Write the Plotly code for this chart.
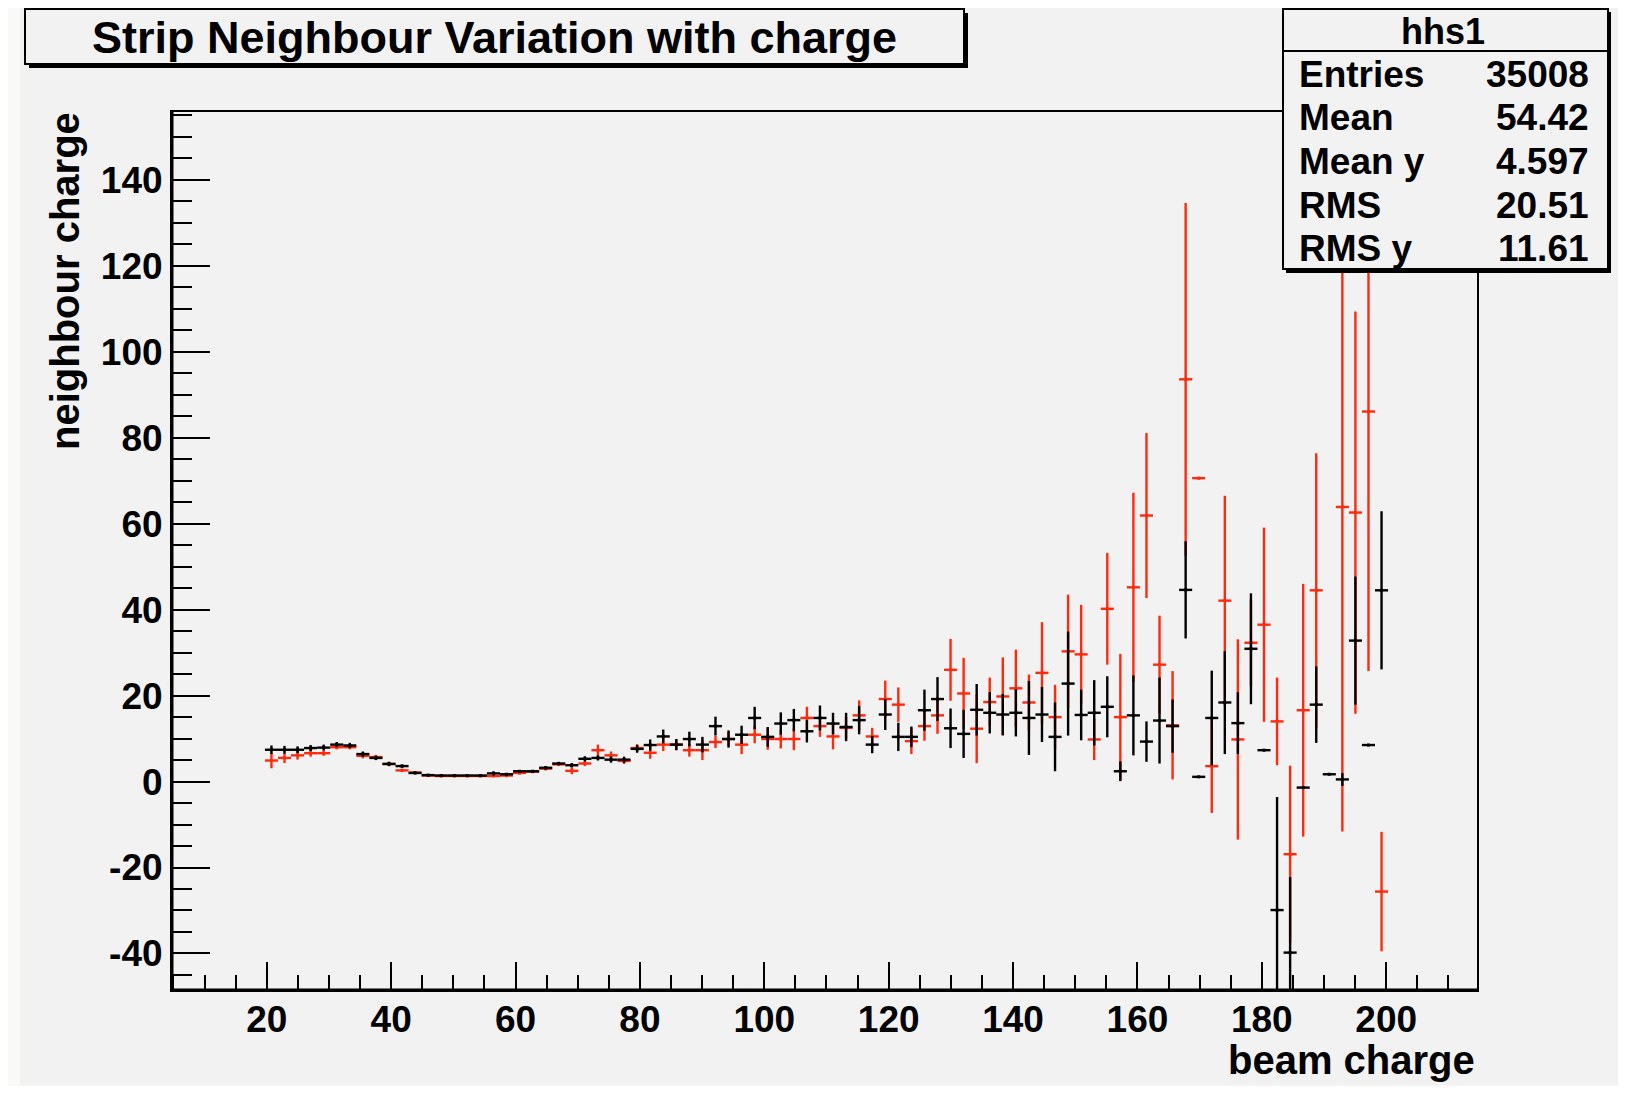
import plotly.graph_objects as go

# ---------------- data (profile histogram, 100 bins of width 2.1 from 5 to 215) ----------------
bin_centers = [
    20.75, 22.85, 24.95, 27.05, 29.15, 31.25, 33.35, 35.45, 37.55, 39.65,
    41.75, 43.85, 45.95, 48.05, 50.15, 52.25, 54.35, 56.45, 58.55, 60.65,
    62.75, 64.85, 66.95, 69.05, 71.15, 73.25, 75.35, 77.45, 79.55, 81.65,
    83.75, 85.85, 87.95, 90.05, 92.15, 94.25, 96.35, 98.45, 100.55, 102.65,
    104.75, 106.85, 108.95, 111.05, 113.15, 115.25, 117.35, 119.45, 121.55, 123.65,
    125.75, 127.85, 129.95, 132.05, 134.15, 136.25, 138.35, 140.45, 142.55, 144.65,
    146.75, 148.85, 150.95, 153.05, 155.15, 157.25, 159.35, 161.45, 163.55, 165.65,
    167.75, 169.85, 171.95, 174.05, 176.15, 178.25, 180.35, 182.45, 184.55, 186.65,
    188.75, 190.85, 192.95, 195.05, 197.15, 199.25,
]
half_bin_width = 1.05

black_y = [
    7.4, 7.4, 7.4, 7.8, 7.9, 8.6, 8.4, 6.4, 5.5, 4.1,
    3.6, 2.0, 1.5, 1.4, 1.4, 1.4, 1.4, 1.9, 1.7, 2.4,
    2.4, 3.2, 4.2, 3.8, 5.3, 5.5, 5.1, 5.1, 7.6, 8.5,
    10.5, 8.6, 9.9, 8.6, 12.9, 9.9, 10.9, 14.8, 10.4, 13.5,
    14.3, 11.7, 14.8, 13.5, 12.7, 14.3, 8.6, 15.6, 10.4, 10.4,
    16.6, 19.2, 12.4, 11.1, 16.7, 16.0, 15.6, 16.0, 14.8, 15.6,
    10.4, 22.8, 15.5, 16.0, 17.4, 2.4, 15.4, 9.3, 14.2, 12.9,
    44.6, 1.1, 14.8, 18.4, 13.6, 30.9, 7.3, -29.9, -39.8, -1.4,
    17.9, 1.7, 0.5, 32.8, 8.5, 44.5,
]
black_err = [
    1.0, 0.9, 0.8, 0.7, 0.7, 0.6, 0.6, 0.6, 0.5, 0.5,
    0.4, 0.3, 0.2, 0.2, 0.2, 0.2, 0.2, 0.5, 0.3, 0.3,
    0.3, 0.4, 0.4, 0.5, 0.6, 0.6, 0.7, 0.7, 0.9, 1.3,
    1.6, 1.3, 1.7, 1.8, 2.2, 2.0, 2.1, 2.6, 2.3, 2.6,
    2.6, 2.6, 2.9, 2.5, 3.3, 3.3, 2.0, 3.6, 3.3, 2.4,
    4.8, 5.1, 4.6, 5.6, 6.0, 4.8, 4.8, 5.5, 8.6, 6.4,
    8.0, 12.1, 5.9, 7.6, 7.1, 2.3, 9.3, 4.7, 10.0, 6.2,
    11.3, 0.0, 11.0, 12.0, 7.2, 12.9, 0.0, 26.3, 17.6, 0.0,
    8.9, 0.0, 1.5, 14.9, 0.0, 18.4,
]
red_y = [
    4.9, 5.5, 6.1, 6.6, 6.6, 8.0, 8.0, 6.0, 5.7, 4.1,
    2.6, 2.1, 1.4, 1.3, 1.3, 1.3, 1.3, 1.3, 1.4, 2.0,
    2.3, 3.0, 4.0, 2.5, 4.2, 7.3, 6.1, 4.8, 7.8, 6.7,
    8.6, 8.6, 7.3, 7.3, 9.2, 9.9, 8.6, 10.9, 9.9, 9.9,
    9.9, 14.8, 12.9, 10.5, 12.5, 15.4, 10.5, 19.2, 17.9, 9.4,
    12.9, 15.4, 26.0, 20.5, 12.3, 18.5, 19.8, 21.7, 18.4, 25.3,
    15.0, 30.3, 29.6, 9.8, 40.2, 15.0, 45.2, 61.9, 27.2, 13.1,
    93.6, 70.6, 3.6, 42.1, 9.8, 32.3, 36.5, 14.0, -16.9, 16.6,
    44.5, None, 63.9, 62.6, 86.1, -25.6,
]
red_err = [
    1.8, 1.2, 1.0, 0.8, 0.6, 0.5, 0.5, 0.6, 0.5, 0.5,
    0.4, 0.3, 0.2, 0.2, 0.2, 0.2, 0.2, 0.2, 0.4, 0.3,
    0.3, 0.4, 0.4, 0.8, 0.6, 1.3, 0.9, 0.7, 0.9, 1.4,
    1.5, 1.3, 1.5, 2.3, 1.4, 1.6, 2.2, 2.0, 2.5, 2.2,
    2.6, 2.6, 2.5, 3.0, 2.5, 3.5, 2.0, 4.3, 4.0, 3.0,
    3.4, 4.3, 7.2, 8.3, 8.0, 5.7, 9.1, 9.0, 6.5, 11.8,
    7.5, 13.2, 11.5, 4.8, 13.0, 14.7, 22.0, 19.2, 11.4, 12.6,
    41.0, 0.3, 10.9, 24.4, 23.3, 10.0, 22.6, 10.2, 20.6, 29.4,
    31.9, 0.0, 75.5, 46.8, 60.4, 13.9,
]

x_tick_vals = [20, 40, 60, 80, 100, 120, 140, 160, 180, 200]
x_tick_labels = ["20", "40", "60", "80", "100", "120", "140", "160", "180", "200"]
y_tick_vals = [-40, -20, 0, 20, 40, 60, 80, 100, 120, 140]
y_tick_labels = ["-40", "-20", "0", "20", "40", "60", "80", "100", "120", "140"]

title_text = "Strip Neighbour Variation with charge"
x_title = "beam charge"
y_title = "neighbour charge"
stats_name = "hhs1"
stats_labels = ["Entries", "Mean", "Mean y", "RMS", "RMS y"]
stats_values = ["35008", "54.42", "4.597", "20.51", "11.61"]

# ---------------- styling ----------------
# The page body has an 8px margin, so the figure is drawn 8px smaller and all
# reference pixel positions are shifted by that offset.
OFF = 8
W, H = 1626 - 2 * OFF, 1094 - 2 * OFF
PL, PR, PT, PB = 172 - OFF, 1477 - OFF, 112 - OFF, 990.5 - OFF
CANVAS = "#f2f2f2"
RED = "#ff2a0e"
FONT = "Liberation Sans, Arial, Helvetica, sans-serif"


def px(x):
    return (x - OFF - PL) / (PR - PL)


def py(y):
    return (PB - (y - OFF)) / (PB - PT)


fig = go.Figure()


def add_profile(y, err, color, name):
    fig.add_trace(go.Scatter(
        x=bin_centers, y=y, mode="markers", name=name,
        marker=dict(color=color, size=3, symbol="square"),
        error_x=dict(type="constant", value=half_bin_width, width=0,
                     thickness=2.4, color=color),
        error_y=dict(type="data", array=err, symmetric=True, width=0,
                     thickness=2.4, color=color),
        hoverinfo="x+y", showlegend=False, cliponaxis=True,
    ))


add_profile(red_y, red_err, RED, "red")
add_profile(black_y, black_err, "black", "black")

shapes = []
# canvas area
shapes.append(dict(type="rect", xref="paper", yref="paper", layer="below",
                   x0=px(20), x1=px(1621), y0=py(7), y1=py(1086),
                   fillcolor=CANVAS, line=dict(width=0)))
# title box with shadow
shapes.append(dict(type="rect", xref="paper", yref="paper", layer="above",
                   x0=px(29), x1=px(968), y0=py(13), y1=py(68),
                   fillcolor="black", line=dict(width=0)))
shapes.append(dict(type="rect", xref="paper", yref="paper", layer="above",
                   x0=px(25), x1=px(964), y0=py(9), y1=py(64),
                   fillcolor=CANVAS, line=dict(color="black", width=2)))
# stats box with shadow
shapes.append(dict(type="rect", xref="paper", yref="paper", layer="above",
                   x0=px(1286), x1=px(1611), y0=py(12), y1=py(273),
                   fillcolor="black", line=dict(width=0)))
shapes.append(dict(type="rect", xref="paper", yref="paper", layer="above",
                   x0=px(1283), x1=px(1608), y0=py(9), y1=py(269),
                   fillcolor=CANVAS, line=dict(color="black", width=2)))
shapes.append(dict(type="line", xref="paper", yref="paper", layer="above",
                   x0=px(1283), x1=px(1608), y0=py(51), y1=py(51),
                   line=dict(color="black", width=2)))
# slightly heavier left/bottom frame as in ROOT
shapes.append(dict(type="line", xref="paper", yref="paper", layer="above",
                   x0=0, x1=1, y0=0, y1=0, line=dict(color="black", width=3)))
shapes.append(dict(type="line", xref="paper", yref="paper", layer="above",
                   x0=0, x1=0, y0=0, y1=1, line=dict(color="black", width=3)))

annotations = []
annotations.append(dict(text=title_text, xref="paper", yref="paper",
                        x=px(494), y=py(37), xanchor="center", yanchor="middle",
                        showarrow=False, font=dict(size=45, color="black", family=FONT, weight="bold")))
annotations.append(dict(text=stats_name, xref="paper", yref="paper",
                        x=px(1443), y=py(31), xanchor="center", yanchor="middle",
                        showarrow=False, font=dict(size=36, color="black", family=FONT, weight="bold")))
row_y = [74, 118, 162, 206, 249]
for lab, val, ry in zip(stats_labels, stats_values, row_y):
    annotations.append(dict(text=lab, xref="paper", yref="paper",
                            x=px(1297), y=py(ry), xanchor="left", yanchor="middle",
                            showarrow=False, font=dict(size=37, color="black", family=FONT, weight="bold")))
    annotations.append(dict(text=val, xref="paper", yref="paper",
                            x=px(1591), y=py(ry), xanchor="right", yanchor="middle",
                            showarrow=False, font=dict(size=37, color="black", family=FONT, weight="bold")))
annotations.append(dict(text=x_title, xref="paper", yref="paper",
                        x=px(1477), y=py(1061), xanchor="right", yanchor="middle",
                        showarrow=False, font=dict(size=40, color="black", family=FONT, weight="bold")))
annotations.append(dict(text=y_title, xref="paper", yref="paper",
                        x=px(65), y=py(110), xanchor="center", yanchor="top", textangle=-90,
                        showarrow=False, font=dict(size=40, color="black", family=FONT, weight="bold")))

axis_common = dict(showgrid=False, zeroline=False, showline=True, linecolor="black",
                   linewidth=2, mirror=True, ticks="inside", tickcolor="black",
                   tickwidth=2, tickmode="array",
                   tickfont=dict(size=37, color="black", family=FONT, weight="bold"))

fig.update_layout(
    width=W, height=H,
    margin=dict(l=PL, r=W - PR, t=PT, b=H - PB, pad=0),
    paper_bgcolor="#f9f9f7", plot_bgcolor=CANVAS,
    xaxis=dict(range=[4.76, 214.6], tickvals=x_tick_vals, ticktext=x_tick_labels,
               ticklen=28, ticklabelstandoff=-4,
               minor=dict(dtick=5, tick0=0, ticklen=15, ticks="inside", tickcolor="black", tickwidth=2),
               **axis_common),
    yaxis=dict(range=[-48.5, 155.8], tickvals=y_tick_vals, ticktext=y_tick_labels,
               ticklen=38,
               minor=dict(dtick=5, tick0=0, ticklen=20, ticks="inside", tickcolor="black", tickwidth=2),
               **axis_common),
    shapes=shapes, annotations=annotations, showlegend=False,
)

fig.write_html("out.html")
